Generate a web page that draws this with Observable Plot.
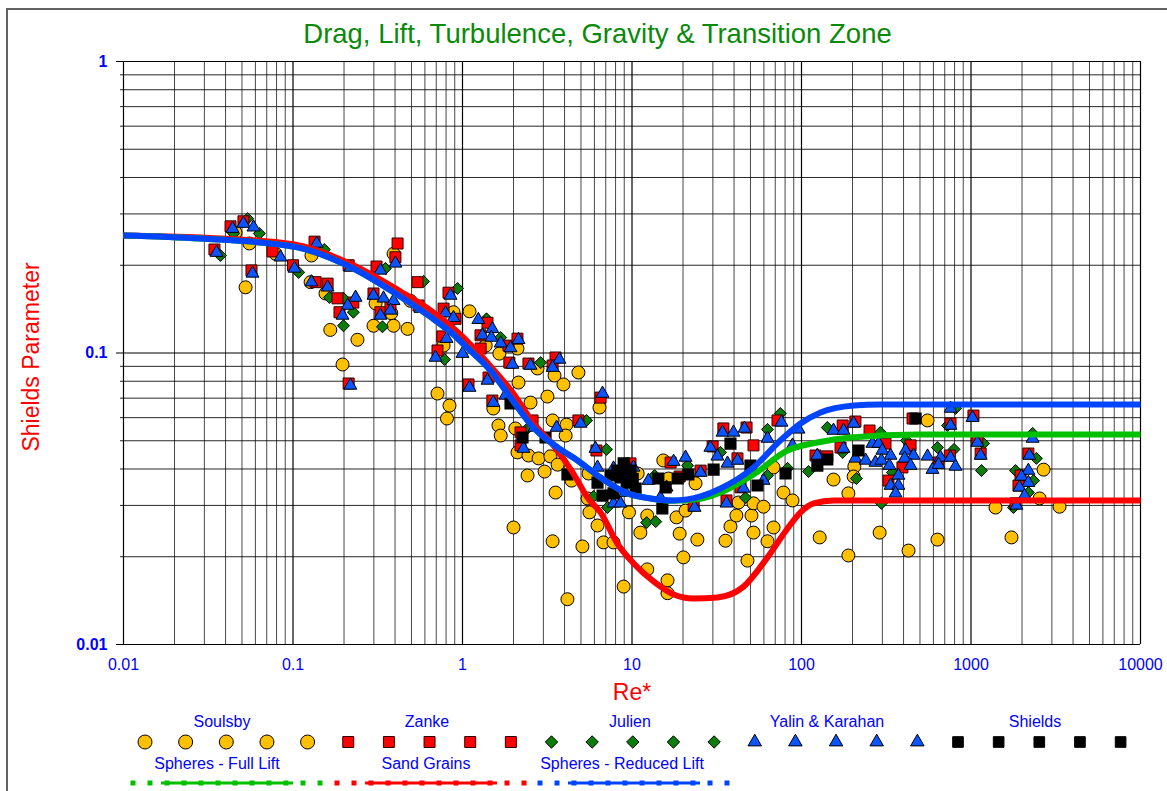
<!DOCTYPE html>
<html><head><meta charset="utf-8">
<script src="https://cdn.jsdelivr.net/npm/d3@7"></script>
<script src="https://cdn.jsdelivr.net/npm/@observablehq/plot@0.6"></script>
<style>
html,body{margin:0;padding:0;background:#fff;}
body{width:1167px;height:791px;overflow:hidden;position:relative;font-family:"Liberation Sans",Arial,sans-serif;}
#chart{position:absolute;left:0;top:0;}
#title{position:absolute;left:0;width:1195px;top:20px;text-align:center;color:#0a8a0a;font-size:27.5px;line-height:1;white-space:nowrap;}
#legend{position:absolute;left:0;top:700px;}
#frame{position:absolute;left:6px;top:8px;width:1400px;height:1000px;border:2px solid #626262;box-sizing:border-box;pointer-events:none;z-index:10;}
</style></head>
<body>
<div id="chart"></div>
<div id="title">Drag, Lift, Turbulence, Gravity &amp; Transition Zone</div>
<svg id="legend" width="1167" height="91"></svg>
<div id="frame"></div>
<script>
// ---- data: [Re*, Shields parameter] ----
const soulsby = [[0.0458,0.259],[0.0553,0.2375],[0.0525,0.168],[0.0788,0.219],[0.1285,0.216],[0.127,0.175],[0.1555,0.16],[0.166,0.12],[0.24,0.111],[0.196,0.0913],[0.392,0.219],[0.307,0.148],[0.38,0.137],[0.2985,0.124],[0.392,0.124],[0.474,0.121],[0.493,0.151],[0.773,0.106],[0.712,0.0726],[0.838,0.066],[0.81,0.0596],[1.1,0.139],[0.885,0.138],[1.37,0.106],[1.65,0.0995],[2.11,0.1036],[1.52,0.0645],[1.63,0.0564],[1.68,0.0521],[2.14,0.0792],[2.52,0.0676],[2.05,0.0551],[2.11,0.0456],[2.45,0.0445],[3.4,0.0587],[4.11,0.0568],[4.06,0.0521],[3.17,0.0709],[3.94,0.078],[4.83,0.0857],[2.77,0.0885],[3.49,0.0837],[2.42,0.038],[3.05,0.0392],[2.81,0.0435],[3.3,0.0442],[3.64,0.0414],[4.4,0.0365],[3.54,0.0332],[2.0,0.0252],[3.4,0.0226],[5.1,0.0217],[4.16,0.0143],[6.43,0.065],[5.54,0.0386],[5.47,0.0317],[5.61,0.0284],[6.26,0.0256],[6.79,0.0224],[7.78,0.0224],[9.6,0.0284],[10.8,0.0386],[11.2,0.0242],[12.3,0.0181],[8.93,0.0158],[16.2,0.0166],[16.2,0.015],[15.3,0.0428],[16.4,0.0371],[12.3,0.0277],[18.3,0.0273],[19.1,0.024],[20.1,0.0199],[24.3,0.0229],[20.7,0.0288],[23.7,0.0357],[35.6,0.0227],[38.1,0.0254],[41.3,0.0277],[42.5,0.0307],[48,0.0194],[50.7,0.0277],[52.1,0.0242],[52.1,0.0305],[59.7,0.0297],[63,0.0226],[68.4,0.0252],[78.3,0.0332],[88.5,0.0312],[68.4,0.0405],[128,0.0233],[189,0.0202],[154.5,0.0368],[189,0.033],[205,0.0408],[203,0.0377],[289,0.0242],[428,0.021],[634,0.0229],[554,0.0587],[1395,0.0295],[1733,0.0233],[2680,0.0398],[2540,0.0317],[3330,0.0297]];

const zanke = [[0.0428,0.272],[0.051,0.283],[0.0344,0.2265],[0.0569,0.192],[0.0757,0.223],[0.1,0.2],[0.136,0.175],[0.134,0.241],[0.16,0.173],[0.183,0.154],[0.227,0.149],[0.188,0.138],[0.213,0.0786],[0.213,0.2],[0.311,0.198],[0.414,0.2375],[0.402,0.213],[0.2985,0.16],[0.328,0.138],[0.376,0.144],[0.543,0.175],[0.55,0.1455],[0.773,0.142],[0.76,0.114],[0.712,0.102],[0.91,0.131],[0.827,0.161],[1.404,0.127],[1.277,0.115],[1.28,0.1036],[1.868,0.106],[2.11,0.112],[1.89,0.0927],[2.45,0.092],[3.54,0.0965],[3.4,0.0906],[1.085,0.078],[1.424,0.0824],[1.5,0.0687],[2.2,0.0534],[2.2,0.0482],[2.59,0.0587],[4.83,0.0587],[6.17,0.0463],[6.52,0.0703],[8.2,0.0386],[9.8,0.0418],[16.9,0.0421],[19.1,0.0377],[23.1,0.03],[25.4,0.0395],[29.9,0.0478],[34.6,0.0551],[47.4,0.0555],[41.9,0.0435],[36.1,0.0312],[43.7,0.0346],[52.1,0.0482],[72.2,0.0587],[121,0.0445],[142,0.0442],[175,0.0564],[208,0.0582],[170,0.0474],[252,0.0542],[313,0.0489],[326,0.0365],[440,0.0482],[394,0.0405],[643,0.0421],[452,0.0596],[757,0.0573],[1034,0.061],[1090,0.0505],[1140,0.0452],[2180,0.0452],[1960,0.038],[1906,0.0351],[1830,0.0305],[750,0.0445]];

const julien = [[0.0373,0.216],[0.0446,0.257],[0.054,0.289],[0.0633,0.257],[0.108,0.189],[0.153,0.2265],[0.164,0.155],[0.1985,0.154],[0.1985,0.124],[0.227,0.138],[0.351,0.195],[0.337,0.123],[0.589,0.176],[0.935,0.1665],[0.783,0.095],[1.385,0.131],[1.68,0.113],[2.89,0.0927],[2.39,0.0547],[5.39,0.0587],[7.07,0.0467],[5.93,0.0322],[7.17,0.0295],[12.2,0.0262],[13.8,0.0264],[13.6,0.038],[21.3,0.0411],[33.3,0.0456],[63,0.0547],[63,0.038],[46.7,0.0319],[75,0.062],[82.7,0.0402],[110,0.0392],[142,0.0555],[175,0.0456],[211,0.0371],[292,0.0534],[344,0.0389],[296,0.0305],[416,0.0501],[634,0.0474],[794,0.0467],[1185,0.0489],[1153,0.0395],[2430,0.0435],[1830,0.0395],[2340,0.0365],[2180,0.0332],[1780,0.0295],[810,0.0645],[727,0.0564],[2310,0.053]];

const yalinKarahan = [[0.0354,0.221],[0.044,0.267],[0.051,0.278],[0.0585,0.27],[0.0577,0.1875],[0.0844,0.213],[0.102,0.195],[0.1285,0.175],[0.138,0.2375],[0.16,0.168],[0.21,0.1455],[0.234,0.155],[0.196,0.1345],[0.218,0.0774],[0.218,0.1965],[0.328,0.192],[0.402,0.203],[0.2985,0.1575],[0.342,0.154],[0.392,0.151],[0.376,0.14],[0.328,0.1345],[0.565,0.142],[0.794,0.137],[0.885,0.132],[0.85,0.1575],[0.805,0.112],[0.693,0.0965],[1.0,0.0995],[1.24,0.13],[1.5,0.121],[1.31,0.115],[1.48,0.113],[1.68,0.108],[1.92,0.104],[2.14,0.111],[1.97,0.0913],[2.52,0.0906],[3.73,0.095],[3.4,0.0891],[1.1,0.0761],[1.404,0.0805],[1.52,0.0676],[1.79,0.0715],[2.29,0.047],[2.66,0.0555],[3.59,0.0555],[4.97,0.0573],[6.09,0.047],[6.7,0.0726],[6.26,0.0405],[7.78,0.0402],[7.78,0.0305],[8.55,0.0305],[9.8,0.0386],[10.2,0.0405],[9.15,0.0332],[12.5,0.0365],[14.7,0.0319],[16,0.0346],[17.6,0.0424],[20.7,0.0438],[23.4,0.0295],[25.4,0.0389],[29,0.0474],[31.9,0.0442],[34.2,0.0534],[39.7,0.0534],[46.1,0.0551],[36.6,0.0418],[41.9,0.0428],[36.1,0.0305],[45.5,0.0343],[59.7,0.0365],[63,0.0509],[76.2,0.0578],[88.5,0.0482],[96,0.0547],[124,0.0445],[154.5,0.0542],[177,0.0542],[203,0.0573],[177,0.047],[208,0.0435],[239,0.0428],[262,0.0489],[273,0.0421],[285,0.0489],[300,0.0463],[335,0.0445],[296,0.0428],[330,0.0411],[373,0.038],[335,0.0351],[373,0.0351],[359,0.033],[411,0.0463],[458,0.0445],[406,0.0435],[440,0.0411],[554,0.0442],[661,0.0438],[593,0.0398],[643,0.0414],[757,0.0438],[810,0.0408],[757,0.0645],[757,0.0564],[1020,0.06],[1090,0.0493],[1140,0.0445],[2310,0.0509],[2210,0.0445],[2180,0.0395],[1985,0.0377],[2180,0.0359],[1930,0.0346],[2070,0.0324],[1855,0.03]];

const shields = [[1.92,0.0671],[2.26,0.0513],[3.09,0.0513],[4.16,0.0383],[6.26,0.0359],[6.7,0.0324],[7.78,0.033],[7.47,0.038],[8.55,0.0374],[8.93,0.0418],[9.8,0.0395],[10.5,0.0343],[9.3,0.0359],[9.0,0.0405],[8.2,0.0395],[10.1,0.037],[15.1,0.0293],[15.8,0.0346],[14.3,0.0371],[18.6,0.0371],[21.5,0.0383],[30.3,0.0398],[38.1,0.0489],[50,0.0411],[55,0.0351],[80.5,0.0386],[124,0.0411],[142,0.0431],[217,0.0463],[471,0.0596]];

// curves
const sandGrains = [[0.01,0.253],[0.0285,0.249],[0.1,0.236],[0.227,0.2],[0.431,0.1625],[0.648,0.14],[0.935,0.118],[1.404,0.0925],[2.0,0.0725],[2.62,0.0575],[3.44,0.0482],[4.51,0.0386],[5.47,0.0319],[6.52,0.0284],[8.2,0.0222],[10.2,0.019],[13.4,0.01645],[17.6,0.01484],[23.1,0.01438],[31.9,0.0145],[45.5,0.0158],[63,0.0199],[82.7,0.025],[98.7,0.0284],[118,0.0305],[154.5,0.0312],[292,0.0312],[10000,0.0312]];
const spheresReducedLift = [[0.01,0.253],[0.0285,0.247],[0.1,0.232],[0.227,0.195],[0.431,0.156],[0.648,0.133],[0.85,0.118],[1.07,0.104],[1.462,0.0871],[1.92,0.0704],[2.62,0.0555],[3.64,0.0474],[4.77,0.0428],[6.52,0.0374],[9.4,0.033],[12.85,0.0317],[17.6,0.0312],[25.4,0.0322],[33.3,0.0343],[52.1,0.0405],[75,0.0501],[98.7,0.0573],[129.5,0.0625],[203,0.066],[292,0.0666],[10000,0.0666]];
const spheresFullLift = [[0.01,0.253],[0.0285,0.247],[0.1,0.232],[0.227,0.195],[0.431,0.156],[0.648,0.133],[0.85,0.118],[1.07,0.104],[1.462,0.0871],[1.92,0.0704],[2.62,0.0555],[3.64,0.0474],[4.77,0.0428],[6.52,0.0374],[9.4,0.033],[12.85,0.0317],[17.6,0.0311],[25.4,0.0316],[33.3,0.0332],[52.1,0.0383],[82.7,0.0463],[124,0.0493],[195,0.0513],[483,0.0525],[10000,0.0525]];

// ticks and labels
const xTicks = [0.01,0.1,1,10,100,1000,10000];
const xTickLabels = ["0.01","0.1","1","10","100","1000","10000"];
const yTicks = [0.01,0.1,1];
const yTickLabels = ["0.01","0.1","1"];
const pointSeriesNames = ["Soulsby","Zanke","Julien","Yalin & Karahan","Shields"];
const lineSeriesNames = ["Spheres - Full Lift","Sand Grains","Spheres - Reduced Lift"];

// ---- styles ----
const C = {soulsby:"#ffc000", zanke:"#ff0000", julien:"#0a7d0a", yalin:"#0a55ff", shields:"#000000",
           sand:"#ff0000", full:"#00c000", reduced:"#0044ff", axis:"#0000ff", label:"#ff0000"};
const FONT = "Liberation Sans, Arial, sans-serif";

const mult = [2,3,4,5,6,7,8,9];
const xMinor = xTicks.slice(0,-1).flatMap(d => mult.map(k => +(k*d).toPrecision(3)));
const yMinor = yTicks.slice(0,-1).flatMap(d => mult.map(k => +(k*d).toPrecision(3)));
const xLab = new Map(xTicks.map((d,i)=>[d,xTickLabels[i]]));
const yLab = new Map(yTicks.map((d,i)=>[d,yTickLabels[i]]));
const X = d => d[0], Y = d => d[1];

const chart = Plot.plot({
  width: 1167, height: 710,
  marginTop: 61, marginLeft: 123, marginRight: 27, marginBottom: 66,
  style: {fontFamily: FONT, fontSize: "16px", background: "transparent", overflow: "visible"},
  x: {type: "log", domain: [0.01, 10000]},
  y: {type: "log", domain: [0.01, 1]},
  marks: [
    Plot.ruleX(xMinor, {stroke: "#000", strokeOpacity: 0.72}),
    Plot.ruleY(yMinor, {stroke: "#000", strokeOpacity: 0.85, insetLeft: -3}),
    Plot.ruleX(xTicks, {stroke: "#000", strokeWidth: 1.2}),
    Plot.ruleY(yTicks, {stroke: "#000", strokeWidth: 1.2, insetLeft: -7}),
    Plot.axisX(xTicks, {tickSize: 0, tickPadding: 14, tickFormat: d => xLab.get(d), color: C.axis, fontSize: 16, label: null}),
    Plot.axisY(yTicks, {tickSize: 0, tickPadding: 16, tickFormat: d => yLab.get(d), color: C.axis, fontSize: 16, fontWeight: "bold", label: null}),
    Plot.text(["Re*"], {frameAnchor: "bottom", dy: 48, fill: C.label, fontSize: 23, lineAnchor: "middle", textAnchor: "middle"}),
    Plot.text(["Shields Parameter"], {frameAnchor: "left", rotate: -90, dx: -92, dy: 4, fill: C.label, fontSize: 23, textAnchor: "middle", lineAnchor: "middle"}),
    Plot.dot(soulsby, {x: X, y: Y, r: 6.5, fill: C.soulsby, stroke: "#000", strokeWidth: 1}),
    Plot.dot(julien, {x: X, y: Y, symbol: "diamond2", r: 5.4, fill: C.julien, stroke: "#000", strokeWidth: 1}),
    Plot.dot(zanke, {x: X, y: Y, symbol: "square", r: 6.2, fill: C.zanke, stroke: "#300", strokeWidth: 1}),
    Plot.dot(yalinKarahan, {x: X, y: Y, symbol: "triangle", r: 4.8, fill: C.yalin, stroke: "#000", strokeWidth: 1}),
    Plot.dot(shields, {x: X, y: Y, symbol: "square", r: 6, fill: C.shields, stroke: "#000"}),
    Plot.line(sandGrains, {x: X, y: Y, stroke: C.sand, strokeWidth: 6, curve: "monotone-x", strokeLinecap: "butt"}),
    Plot.line(spheresFullLift, {x: X, y: Y, stroke: C.full, strokeWidth: 6, curve: "monotone-x", strokeLinecap: "butt"}),
    Plot.line(spheresReducedLift, {x: X, y: Y, stroke: C.reduced, strokeWidth: 6, curve: "monotone-x", strokeLinecap: "butt"})
  ]
});
document.getElementById("chart").appendChild(chart);
// make sure tick labels get the intended size / weight
d3.select(chart).selectAll('g[aria-label="x-axis tick label"], g[aria-label="x-axis tick label"] text').attr("font-size", 16).style("font-size", "16px");
d3.select(chart).selectAll('g[aria-label="y-axis tick label"], g[aria-label="y-axis tick label"] text').attr("font-size", 16).style("font-size", "16px").attr("font-weight", "bold").style("font-weight", "bold");

// ---- legend ----
const leg = d3.select("#legend").style("font-family", FONT);
const pStyles = [
  {type: d3.symbolCircle, r: 7, fill: C.soulsby, stroke: "#000"},
  {type: d3.symbolSquare, r: 6.2, fill: C.zanke, stroke: "#300"},
  {type: d3.symbolDiamond2, r: 5.6, fill: C.julien, stroke: "#000"},
  {type: d3.symbolTriangle, r: 5, fill: C.yalin, stroke: "#000"},
  {type: d3.symbolSquare, r: 6, fill: C.shields, stroke: "#000"}
];
const pLabelX = [222, 427, 630, 827, 1035];
const mStart = 145, mStep = 40.65, mY = 42;
pointSeriesNames.forEach((name, si) => {
  const s = pStyles[si];
  leg.append("text").attr("x", pLabelX[si]).attr("y", 27).attr("text-anchor", "middle")
    .attr("fill", C.axis).attr("font-size", 16).text(name);
  for (let k = 0; k < 5; k++) {
    const cx = mStart + (si * 5 + k) * mStep;
    leg.append("path").attr("transform", `translate(${cx},${mY})`)
      .attr("d", d3.symbol().type(s.type).size(Math.PI * s.r * s.r)())
      .attr("fill", s.fill).attr("stroke", s.stroke).attr("stroke-width", 1);
  }
});
const lColors = [C.full, C.sand, C.reduced];
const lStart = [133, 337, 540];
const lLabelX = [217, 426, 622];
const lY = 83;
lineSeriesNames.forEach((name, li) => {
  const x0 = lStart[li], col = lColors[li];
  leg.append("text").attr("x", lLabelX[li]).attr("y", 69).attr("text-anchor", "middle")
    .attr("fill", C.axis).attr("font-size", 16).text(name);
  leg.append("line").attr("x1", x0 + 28).attr("x2", x0 + 160).attr("y1", lY).attr("y2", lY)
    .attr("stroke", col).attr("stroke-width", 3);
  const sq = [0, 17, 170, 187];
  for (let j = 0; j < 8; j++) sq.push(34 + 17 * j);
  sq.forEach(o => leg.append("rect").attr("x", x0 + o - 2.5).attr("y", lY - 2.5)
    .attr("width", 5).attr("height", 5).attr("fill", col));
});
</script>
</body></html>
